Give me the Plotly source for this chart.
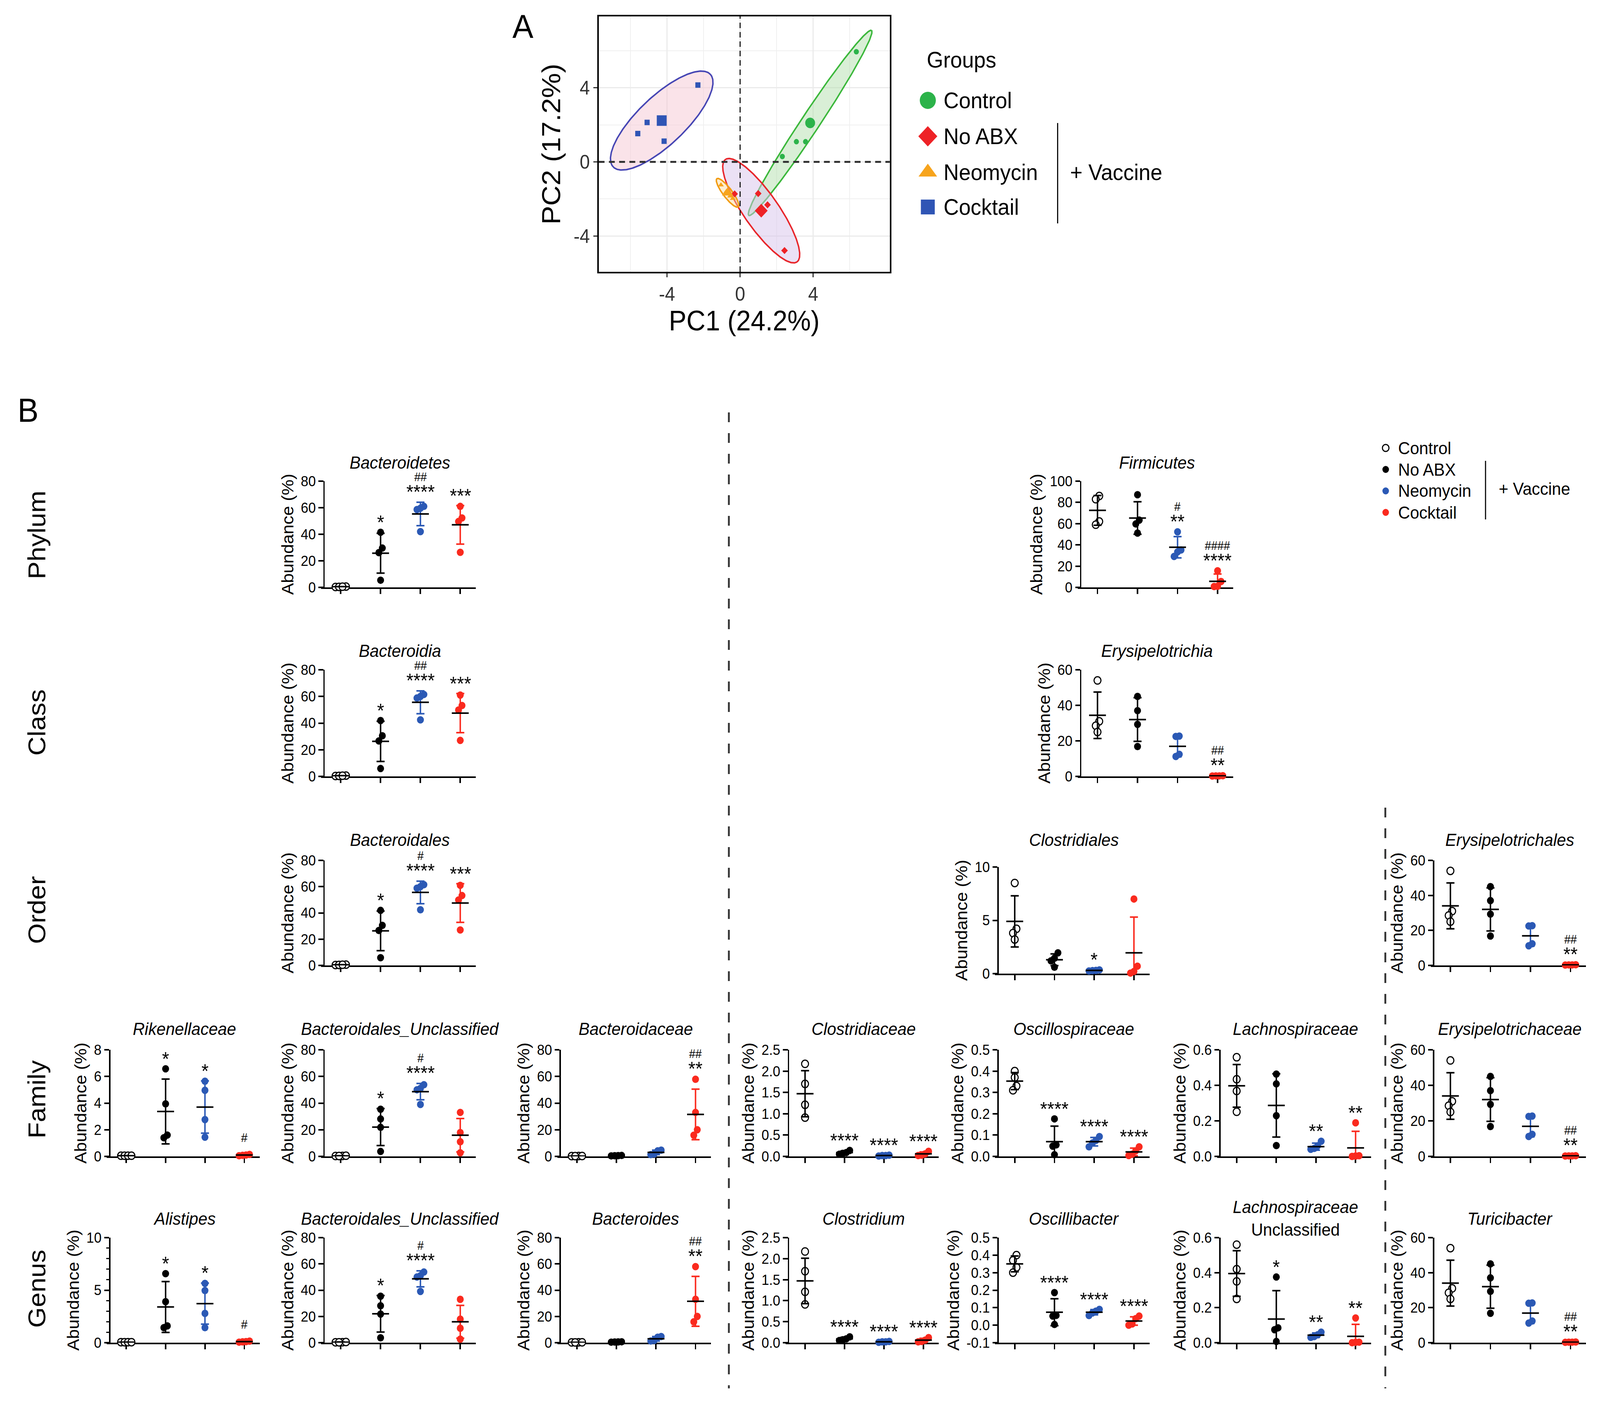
import numpy as np
import plotly.graph_objects as go

W, H = 4375, 3595
FONT = "Liberation Sans, Arial, Helvetica, sans-serif"

# ======================= Panel A : PCA data =======================
pca_groups = ["Control", "No ABX", "Neomycin", "Cocktail"]
pc1_control = [6.36, 3.08, 3.58, 2.31]
pc2_control = [5.95, 1.09, 1.09, 0.29]
pc1_noabx = [2.43, 1.50, -0.30, 0.99]
pc2_noabx = [-4.79, -2.32, -1.73, -1.71]
pc1_neomycin = [-1.05, -0.75, -0.55, -0.40]
pc2_neomycin = [-1.25, -1.60, -1.85, -1.98]
pc1_cocktail = [-2.31, -5.09, -5.60, -4.16]
pc2_cocktail = [4.15, 2.13, 1.53, 1.12]
ell_semi_major = [6.02, 3.39, 0.96, 3.65]
ell_semi_minor = [0.50, 0.95, 0.25, 1.30]
ell_angle_deg = [56.1, -54.7, -52.6, 43.2]
pca_ticks = [-4, 0, 4]
pca_tick_text = ["-4", "0", "4"]
pca_minor_grid = [-6, -2, 2, 6]

# ======================= Panel B : dot-plot data =======================
dot_groups = ["Control", "No ABX", "Neomycin", "Cocktail"]

bacteroidetes_pts = [[0.3, 0.6, 0.4, 0.5], [41.5, 29.6, 26.2, 5.4], [61.0, 59.6, 58.6, 42.0], [61.0, 52.3, 49.6, 26.4]]
bacteroidetes_mean = [0.45, 25.7, 55.3, 47.1]
bacteroidetes_sd = [0.15, 15.0, 8.8, 14.5]
bacteroidetes_star = ["", "*", "****", "***"]
bacteroidetes_hash = ["", "", "##", ""]

firmicutes_pts = [[86.0, 83.0, 62.0, 59.0], [87.2, 63.3, 59.7, 51.1], [52.3, 35.2, 33.4, 29.1], [15.6, 5.5, 1.0, 0.8]]
firmicutes_mean = [72.5, 65.3, 37.8, 5.7]
firmicutes_sd = [14.0, 15.3, 10.0, 6.9]
firmicutes_star = ["", "", "**", "****"]
firmicutes_hash = ["", "", "#", "####"]

bacteroidia_pts = [[0.3, 0.6, 0.4, 0.5], [41.9, 30.5, 26.6, 5.9], [61.5, 60.0, 58.8, 42.4], [61.0, 53.2, 49.8, 27.0]]
bacteroidia_mean = [0.45, 26.3, 55.6, 47.5]
bacteroidia_sd = [0.15, 15.1, 8.6, 14.7]
bacteroidia_star = ["", "*", "****", "***"]
bacteroidia_hash = ["", "", "##", ""]

erysipelotrichia_pts = [[54.0, 31.0, 28.5, 25.0], [45.0, 37.0, 29.3, 16.8], [22.5, 22.7, 11.2, 12.4], [0.3, 0.2, 0.4, 0.3]]
erysipelotrichia_mean = [34.4, 32.0, 16.9, 0.3]
erysipelotrichia_sd = [13.1, 12.3, 5.9, 0.1]
erysipelotrichia_star = ["", "", "", "**"]
erysipelotrichia_hash = ["", "", "", "##"]

bacteroidales_pts = [[0.3, 0.6, 0.4, 0.5], [41.9, 30.5, 26.6, 5.9], [61.5, 60.0, 58.8, 42.4], [61.0, 53.2, 49.8, 27.0]]
bacteroidales_mean = [0.45, 26.3, 55.6, 47.5]
bacteroidales_sd = [0.15, 15.1, 8.6, 14.7]
bacteroidales_star = ["", "*", "****", "***"]
bacteroidales_hash = ["", "", "#", ""]

clostridiales_pts = [[8.5, 4.2, 3.8, 3.2], [1.95, 1.45, 1.2, 0.6], [0.35, 0.3, 0.28, 0.25], [7.0, 0.7, 0.2, 0.05]]
clostridiales_mean = [4.9, 1.3, 0.3, 1.95]
clostridiales_sd = [2.4, 0.55, 0.05, 3.35]
clostridiales_star = ["", "", "*", ""]
clostridiales_hash = ["", "", "", ""]

erysipelotrichales_pts = [[54.0, 31.0, 28.5, 25.0], [45.0, 37.0, 29.3, 16.8], [22.5, 22.7, 11.2, 12.4], [0.3, 0.2, 0.4, 0.3]]
erysipelotrichales_mean = [34.0, 32.0, 16.9, 0.3]
erysipelotrichales_sd = [13.1, 12.3, 5.9, 0.1]
erysipelotrichales_star = ["", "", "", "**"]
erysipelotrichales_hash = ["", "", "", "##"]

rikenellaceae_pts = [[0.05, 0.05, 0.05, 0.05], [6.57, 3.94, 1.60, 1.40], [5.64, 4.96, 2.76, 1.44], [0.15, 0.10, 0.08, 0.05]]
rikenellaceae_mean = [0.05, 3.37, 3.70, 0.10]
rikenellaceae_sd = [0.0, 2.43, 1.96, 0.04]
rikenellaceae_star = ["", "*", "*", ""]
rikenellaceae_hash = ["", "", "", "#"]

bactunc_fam_pts = [[0.3, 0.4, 0.5, 0.3], [35.4, 28.1, 21.8, 3.7], [53.8, 51.0, 50.0, 39.0], [33.0, 17.9, 11.0, 2.7]]
bactunc_fam_mean = [0.4, 22.0, 48.6, 15.9]
bactunc_fam_sd = [0.1, 13.9, 6.1, 12.5]
bactunc_fam_star = ["", "*", "****", ""]
bactunc_fam_hash = ["", "", "#", ""]

bacteroidaceae_pts = [[0.2, 0.3, 0.2, 0.3], [0.5, 0.6, 0.4, 0.7], [4.7, 4.2, 1.8, 1.3], [57.9, 33.0, 20.0, 15.9]]
bacteroidaceae_mean = [0.25, 0.55, 3.0, 31.5]
bacteroidaceae_sd = [0.05, 0.1, 1.7, 19.0]
bacteroidaceae_star = ["", "", "", "**"]
bacteroidaceae_hash = ["", "", "", "##"]

clostridiaceae_pts = [[2.17, 1.70, 1.21, 0.91], [0.14, 0.09, 0.07, 0.05], [0.03, 0.02, 0.02, 0.01], [0.12, 0.06, 0.03, 0.02]]
clostridiaceae_mean = [1.47, 0.09, 0.02, 0.06]
clostridiaceae_sd = [0.54, 0.04, 0.01, 0.045]
clostridiaceae_star = ["", "****", "****", "****"]
clostridiaceae_hash = ["", "", "", ""]

oscillospiraceae_pts = [[0.40, 0.37, 0.33, 0.31], [0.176, 0.054, 0.048, 0.008], [0.093, 0.075, 0.063, 0.045], [0.045, 0.026, 0.010, 0.004]]
oscillospiraceae_mean = [0.353, 0.069, 0.069, 0.021]
oscillospiraceae_sd = [0.04, 0.073, 0.02, 0.018]
oscillospiraceae_star = ["", "****", "****", "****"]
oscillospiraceae_hash = ["", "", "", ""]

lachnospiraceae_pts = [[0.558, 0.434, 0.368, 0.251], [0.463, 0.408, 0.229, 0.061], [0.085, 0.060, 0.045, 0.040], [0.189, 0.004, 0.002, 0.0]]
lachnospiraceae_mean = [0.397, 0.287, 0.055, 0.048]
lachnospiraceae_sd = [0.12, 0.178, 0.02, 0.093]
lachnospiraceae_star = ["", "", "**", "**"]
lachnospiraceae_hash = ["", "", "", ""]

erysipelotrichaceae_pts = [[54.0, 31.0, 28.5, 25.0], [45.0, 37.0, 29.3, 16.8], [22.5, 22.7, 11.2, 12.4], [0.3, 0.2, 0.4, 0.3]]
erysipelotrichaceae_mean = [34.0, 32.0, 16.9, 0.3]
erysipelotrichaceae_sd = [13.1, 12.3, 5.9, 0.1]
erysipelotrichaceae_star = ["", "", "", "**"]
erysipelotrichaceae_hash = ["", "", "", "##"]

alistipes_pts = [[0.05, 0.05, 0.05, 0.05], [6.57, 3.90, 1.60, 1.43], [5.64, 4.96, 2.79, 1.43], [0.15, 0.10, 0.08, 0.05]]
alistipes_mean = [0.05, 3.40, 3.72, 0.10]
alistipes_sd = [0.0, 2.42, 1.95, 0.04]
alistipes_star = ["", "*", "*", ""]
alistipes_hash = ["", "", "", "#"]

bactunc_gen_pts = [[0.3, 0.4, 0.5, 0.3], [35.4, 28.1, 21.8, 3.7], [53.8, 51.0, 50.0, 39.0], [33.0, 17.9, 11.0, 2.7]]
bactunc_gen_mean = [0.4, 22.0, 48.6, 15.9]
bactunc_gen_sd = [0.1, 13.9, 6.1, 12.5]
bactunc_gen_star = ["", "*", "****", ""]
bactunc_gen_hash = ["", "", "#", ""]

bacteroides_pts = [[0.2, 0.3, 0.2, 0.3], [0.5, 0.6, 0.4, 0.7], [4.7, 4.2, 1.8, 1.3], [57.9, 33.0, 20.0, 15.9]]
bacteroides_mean = [0.25, 0.55, 3.0, 31.5]
bacteroides_sd = [0.05, 0.1, 1.7, 19.0]
bacteroides_star = ["", "", "", "**"]
bacteroides_hash = ["", "", "", "##"]

clostridium_pts = [[2.17, 1.70, 1.21, 0.91], [0.14, 0.09, 0.07, 0.05], [0.03, 0.02, 0.02, 0.01], [0.12, 0.06, 0.03, 0.02]]
clostridium_mean = [1.47, 0.09, 0.02, 0.06]
clostridium_sd = [0.54, 0.04, 0.01, 0.045]
clostridium_star = ["", "****", "****", "****"]
clostridium_hash = ["", "", "", ""]

oscillibacter_pts = [[0.40, 0.37, 0.33, 0.30], [0.186, 0.056, 0.052, 0.004], [0.090, 0.080, 0.070, 0.055], [0.052, 0.037, 0.007, 0.0]]
oscillibacter_mean = [0.35, 0.074, 0.074, 0.024]
oscillibacter_sd = [0.045, 0.077, 0.015, 0.024]
oscillibacter_star = ["", "****", "****", "****"]
oscillibacter_hash = ["", "", "", ""]

lachnounc_pts = [[0.56, 0.42, 0.35, 0.25], [0.375, 0.085, 0.074, 0.007], [0.060, 0.045, 0.035, 0.030], [0.141, 0.003, 0.002, 0.0]]
lachnounc_mean = [0.395, 0.135, 0.043, 0.036]
lachnounc_sd = [0.13, 0.162, 0.013, 0.069]
lachnounc_star = ["", "*", "**", "**"]
lachnounc_hash = ["", "", "", ""]

turicibacter_pts = [[54.0, 31.0, 28.5, 25.0], [45.0, 37.0, 29.3, 16.8], [22.5, 22.7, 11.2, 12.4], [0.3, 0.2, 0.4, 0.3]]
turicibacter_mean = [34.0, 32.0, 16.9, 0.3]
turicibacter_sd = [13.1, 12.3, 5.9, 0.1]
turicibacter_star = ["", "", "", "**"]
turicibacter_hash = ["", "", "", "##"]

# ======================= Styling / layout tables =======================
BLACK = "#000000"
BLUE = "#2B59B5"
RED = "#FA2A1E"
GROUP_FILL = ["white", BLACK, BLUE, RED]
GROUP_EDGE = [BLACK, BLACK, BLUE, RED]
GROUP_BAR = [BLACK, BLACK, BLUE, RED]

PCA_COL = ["#2CB34A", "#EE2226", "#F7A41D", "#2F55B5"]
PCA_ELL_LINE = ["#3CB83C", "#E8262B", "#F29C12", "#4646B4"]
PCA_ELL_FILL = ["rgba(170,220,165,0.45)", "rgba(215,195,235,0.5)", "rgba(250,215,150,0.45)", "rgba(245,200,212,0.5)"]
PCA_SYM = ["circle", "diamond", "triangle-up", "square"]

COLS = {"L1": (300, 710), "L2": (886, 1301), "L3": (1532, 1944), "R1": (2156, 2567),
        "R2": (2729, 3143), "R3": (3336, 3749), "R4": (3920, 4337), "F": (2955, 3372)}
ROWS = {"P": (1232, 1504, 1184), "C": (1715, 1988, 1666), "O": (2203, 2472, 2150),
        "Oc": (2220, 2493, 2150), "F": (2688, 2961, 2634), "G": (3169, 3438, 3120)}

PANELS = [
    ("<i>Bacteroidetes</i>", "bacteroidetes", "L2", "P", (0, 80), 20, "", None),
    ("<i>Firmicutes</i>", "firmicutes", "F", "P", (0, 100), 20, "", None),
    ("<i>Bacteroidia</i>", "bacteroidia", "L2", "C", (0, 80), 20, "", None),
    ("<i>Erysipelotrichia</i>", "erysipelotrichia", "F", "C", (0, 60), 20, "", None),
    ("<i>Bacteroidales</i>", "bacteroidales", "L2", "O", (0, 80), 20, "", None),
    ("<i>Clostridiales</i>", "clostridiales", "R2", "Oc", (0, 10), 5, "", None),
    ("<i>Erysipelotrichales</i>", "erysipelotrichales", "R4", "O", (0, 60), 20, "", None),
    ("<i>Rikenellaceae</i>", "rikenellaceae", "L1", "F", (0, 8), 2, "", None),
    ("<i>Bacteroidales_Unclassified</i>", "bactunc_fam", "L2", "F", (0, 80), 20, "", None),
    ("<i>Bacteroidaceae</i>", "bacteroidaceae", "L3", "F", (0, 80), 20, "", None),
    ("<i>Clostridiaceae</i>", "clostridiaceae", "R1", "F", (0, 2.5), 0.5, ".1f", None),
    ("<i>Oscillospiraceae</i>", "oscillospiraceae", "R2", "F", (0, 0.5), 0.1, ".1f", None),
    ("<i>Lachnospiraceae</i>", "lachnospiraceae", "R3", "F", (0, 0.6), 0.2, ".1f", None),
    ("<i>Erysipelotrichaceae</i>", "erysipelotrichaceae", "R4", "F", (0, 60), 20, "", None),
    ("<i>Alistipes</i>", "alistipes", "L1", "G", (0, 10), 5, "", 1),
    ("<i>Bacteroidales_Unclassified</i>", "bactunc_gen", "L2", "G", (0, 80), 20, "", None),
    ("<i>Bacteroides</i>", "bacteroides", "L3", "G", (0, 80), 20, "", None),
    ("<i>Clostridium</i>", "clostridium", "R1", "G", (0, 2.5), 0.5, ".1f", None),
    ("<i>Oscillibacter</i>", "oscillibacter", "R2", "G", (-0.1, 0.5), 0.1, ".1f", None),
    ("<i>Lachnospiraceae</i><br>Unclassified", "lachnounc", "R3", "G", (0, 0.6), 0.2, ".1f", None),
    ("<i>Turicibacter</i>", "turicibacter", "R4", "G", (0, 60), 20, "", None),
]

X_LEFT, X_RIGHT = -0.42, 3.39
MARKER_D = 19


def fx(px):
    return px / W


def fy(py):
    return 1 - py / H


def beeswarm(vals, px_per_unit, d):
    vals = np.asarray(vals, float)
    order = np.argsort(vals)
    offs = np.zeros(len(vals))
    clusters = [[order[0]]]
    for i in order[1:]:
        if (vals[i] - vals[clusters[-1][-1]]) * px_per_unit < 0.8 * d:
            clusters[-1].append(i)
        else:
            clusters.append([i])
    for c in clusters:
        k = len(c)
        for j, idx in enumerate(c):
            offs[idx] = (j - (k - 1) / 2.0) * 0.5 * d
    return offs


def tick_text(vals, fmt):
    out = []
    for v in vals:
        s = format(v, fmt) if fmt else str(int(round(v)))
        out.append(s.replace("\u2212", "-"))
    return out


fig = go.Figure()
layout = dict(width=W, height=H, margin=dict(l=0, r=0, t=0, b=0, pad=0),
              paper_bgcolor="white", plot_bgcolor="rgba(0,0,0,0)", showlegend=False,
              font=dict(family=FONT, color="black"))
annotations = []
shapes = []

# ======================= Panel A =======================
pca_axis_common = dict(tickvals=pca_ticks, ticktext=pca_tick_text, ticks="outside", ticklen=10, tickwidth=3,
                       tickcolor="#333", showline=True, mirror=True, linewidth=4, linecolor="black",
                       showgrid=True, gridcolor="#EBEBEB", gridwidth=3, zeroline=False,
                       minor=dict(tickvals=pca_minor_grid, showgrid=True, gridcolor="#F0F0F0", gridwidth=2, ticks=""),
                       tickfont=dict(size=50, color="#333"), automargin=False)
layout["xaxis"] = dict(domain=[fx(1637), fx(2433)], range=[-7.74, 8.19], anchor="y",
                       title=dict(text="PC1 (24.2%)", font=dict(size=72), standoff=12), **pca_axis_common)
layout["yaxis"] = dict(domain=[fy(696), fy(42)], range=[-5.94, 7.86], anchor="x",
                       title=dict(text="PC2 (17.2%)", font=dict(size=72), standoff=14), **pca_axis_common)

shapes.append(dict(type="line", xref="x", yref="y domain", x0=0, x1=0, y0=0, y1=1, layer="above",
                   line=dict(color="#111", width=3, dash="14px,10px")))
shapes.append(dict(type="line", xref="x domain", yref="y", x0=0, x1=1, y0=0, y1=0, layer="above",
                   line=dict(color="#333", width=5, dash="16px,12px")))

pca_pc1 = [pc1_control, pc1_noabx, pc1_neomycin, pc1_cocktail]
pca_pc2 = [pc2_control, pc2_noabx, pc2_neomycin, pc2_cocktail]
t = np.linspace(0, 2 * np.pi, 241)
for g in range(4):
    cx, cy = np.mean(pca_pc1[g]), np.mean(pca_pc2[g])
    a, b, th = ell_semi_major[g], ell_semi_minor[g], np.deg2rad(ell_angle_deg[g])
    ex = cx + a * np.cos(t) * np.cos(th) - b * np.sin(t) * np.sin(th)
    ey = cy + a * np.cos(t) * np.sin(th) + b * np.sin(t) * np.cos(th)
    fig.add_trace(go.Scatter(x=ex, y=ey, mode="lines", fill="toself", fillcolor=PCA_ELL_FILL[g],
                             line=dict(color=PCA_ELL_LINE[g], width=4), xaxis="x", yaxis="y", hoverinfo="skip"))
for g in range(4):
    cx, cy = np.mean(pca_pc1[g]), np.mean(pca_pc2[g])
    fig.add_trace(go.Scatter(x=pca_pc1[g], y=pca_pc2[g], mode="markers", xaxis="x", yaxis="y",
                             marker=dict(symbol=PCA_SYM[g], size=14, color=PCA_COL[g], line=dict(width=0))))
    fig.add_trace(go.Scatter(x=[cx], y=[cy], mode="markers", xaxis="x", yaxis="y",
                             marker=dict(symbol=PCA_SYM[g], size=27, color=PCA_COL[g], line=dict(width=0))))

annotations.append(dict(text="A", x=fx(1430), y=fy(67), xref="paper", yref="paper", showarrow=False,
                        font=dict(size=86), xanchor="center", yanchor="middle"))
annotations.append(dict(text="B", x=fx(76), y=fy(1050), xref="paper", yref="paper", showarrow=False,
                        font=dict(size=86), xanchor="center", yanchor="middle"))

# ---- overlay axis used only for legend glyphs (pixel coordinates) ----
layout["xaxis40"] = dict(domain=[0, 1], range=[0, W], visible=False, fixedrange=True, anchor="y40")
layout["yaxis40"] = dict(domain=[0, 1], range=[H, 0], visible=False, fixedrange=True, anchor="x40")

# legend A
annotations.append(dict(text="Groups", x=fx(2532), y=fy(153), xref="paper", yref="paper", showarrow=False,
                        font=dict(size=58), xanchor="left", yanchor="middle"))
legA_y = [257, 349, 441, 530]
legA_size = [44, 40, 44, 38]
for g in range(4):
    fig.add_trace(go.Scatter(x=[2537], y=[legA_y[g]], xaxis="x40", yaxis="y40", mode="markers", cliponaxis=False,
                             marker=dict(symbol=PCA_SYM[g], size=legA_size[g], color=PCA_COL[g], line=dict(width=0))))
    annotations.append(dict(text=pca_groups[g], x=fx(2578), y=fy(legA_y[g]), xref="paper", yref="paper",
                            showarrow=False, font=dict(size=58), xanchor="left", yanchor="middle"))
shapes.append(dict(type="line", xref="paper", yref="paper", x0=fx(2892), x1=fx(2892), y0=fy(315), y1=fy(572),
                   line=dict(color="black", width=3)))
annotations.append(dict(text="+ Vaccine", x=fx(2924), y=fy(441), xref="paper", yref="paper", showarrow=False,
                        font=dict(size=58), xanchor="left", yanchor="middle"))

# legend B
legB_y = [1147, 1202, 1257, 1312]
for g in range(4):
    fig.add_trace(go.Scatter(x=[3789], y=[legB_y[g]], xaxis="x40", yaxis="y40", mode="markers", cliponaxis=False,
                             marker=dict(symbol="circle", size=18, color=GROUP_FILL[g],
                                         line=dict(color=GROUP_EDGE[g], width=3 if g == 0 else 0))))
    annotations.append(dict(text=dot_groups[g], x=fx(3821), y=fy(legB_y[g]), xref="paper", yref="paper",
                            showarrow=False, font=dict(size=45), xanchor="left", yanchor="middle"))
shapes.append(dict(type="line", xref="paper", yref="paper", x0=fx(4062), x1=fx(4062), y0=fy(1180), y1=fy(1330),
                   line=dict(color="black", width=3)))
annotations.append(dict(text="+ Vaccine", x=fx(4096), y=fy(1252), xref="paper", yref="paper", showarrow=False,
                        font=dict(size=45), xanchor="left", yanchor="middle"))

# row labels
row_labels = ["Phylum", "Class", "Order", "Family", "Genus"]
row_label_y = [1370, 1850, 2330, 2815, 3300]
for lab, yy in zip(row_labels, row_label_y):
    annotations.append(dict(text=lab, x=fx(100), y=fy(yy), xref="paper", yref="paper", showarrow=False,
                            textangle=-90, font=dict(size=68), xanchor="center", yanchor="middle"))

# dashed dividers
shapes.append(dict(type="line", xref="paper", yref="paper", x0=fx(1993), x1=fx(1993), y0=fy(1056), y1=fy(3555),
                   line=dict(color="#333", width=5, dash="25px,28px")))
shapes.append(dict(type="line", xref="paper", yref="paper", x0=fx(3788), x1=fx(3788), y0=fy(2068), y1=fy(3555),
                   line=dict(color="#333", width=5, dash="25px,28px")))

# ======================= Panel B dot plots =======================
G = globals()
for k, (title, key, col, row, yr, dtick, fmt, minor) in enumerate(PANELS, start=2):
    pts = G[key + "_pts"]
    mean = G[key + "_mean"]
    sd = G[key + "_sd"]
    star = G[key + "_star"]
    hsh = G[key + "_hash"]
    left, right = COLS[col]
    top, bottom, ty = ROWS[row]
    pxpc = (right - left) / (X_RIGHT - X_LEFT)
    pxpu = (bottom - top) / (yr[1] - yr[0])
    over = 8
    xa, ya, xr, yrf = f"xaxis{k}", f"yaxis{k}", f"x{k}", f"y{k}"
    layout[xa] = dict(domain=[fx(left - over), fx(right)], range=[X_LEFT - over / pxpc, X_RIGHT], anchor=yrf,
                      showline=True, linewidth=4, linecolor="black", ticks="outside", ticklen=13, tickwidth=4,
                      tickcolor="black", tickvals=[0, 1, 2, 3], showticklabels=False, showgrid=False,
                      zeroline=False, layer="below traces", automargin=False, fixedrange=True)
    tv = list(np.round(np.arange(yr[0], yr[1] + dtick / 2, dtick), 6))
    ydict = dict(domain=[fy(bottom), fy(top)], range=list(yr), anchor="free", position=fx(left),
                 showline=True, linewidth=4, linecolor="black", ticks="outside", ticklen=13, tickwidth=4,
                 tickcolor="black", tickvals=tv, ticktext=tick_text(tv, fmt), showgrid=False, zeroline=False,
                 tickfont=dict(size=37), layer="below traces", automargin=False, fixedrange=True,
                 title=dict(text="Abundance (%)", font=dict(size=45), standoff=5))
    if minor:
        ydict["minor"] = dict(dtick=minor, tick0=0, ticks="outside", ticklen=8, tickwidth=3, tickcolor="black")
    layout[ya] = ydict

    for g in range(4):
        offs = beeswarm(pts[g], pxpu, MARKER_D)
        xs = g + offs / pxpc
        fig.add_trace(go.Scatter(x=xs, y=pts[g], xaxis=xr, yaxis=yrf, mode="markers", cliponaxis=False,
                                 marker=dict(symbol="circle", size=MARKER_D, color=GROUP_FILL[g],
                                             line=dict(color=GROUP_EDGE[g], width=3 if g == 0 else 0))))
    for g in range(4):
        fig.add_trace(go.Scatter(x=[g], y=[mean[g]], xaxis=xr, yaxis=yrf, mode="markers", cliponaxis=True,
                                 marker=dict(symbol="line-ew", size=33, color="black",
                                             line=dict(color="black", width=4)),
                                 error_y=dict(type="data", array=[sd[g]], visible=True, color=GROUP_BAR[g],
                                              thickness=4, width=11)))
        topv = max(max(pts[g]), mean[g] + sd[g])
        if star[g] and hsh[g]:
            txt = (f"<span style='font-size:31px'>{hsh[g]}</span><br>"
                   f"<span style='font-size:50px'>{star[g]}</span>")
            annotations.append(dict(text=txt, x=g, y=topv, xref=xr, yref=yrf, showarrow=False,
                                    font=dict(size=35), xanchor="center", yanchor="bottom", yshift=-5))
        elif star[g]:
            annotations.append(dict(text=star[g], x=g, y=topv, xref=xr, yref=yrf, showarrow=False,
                                    font=dict(size=50), xanchor="center", yanchor="bottom", yshift=-5))
        elif hsh[g]:
            annotations.append(dict(text=hsh[g], x=g, y=topv, xref=xr, yref=yrf, showarrow=False,
                                    font=dict(size=32), xanchor="center", yanchor="bottom", yshift=23))
    annotations.append(dict(text=title, x=fx((left + right) / 2), y=fy(ty), xref="paper", yref="paper",
                            showarrow=False, font=dict(size=45), xanchor="center", yanchor="middle"))

layout["annotations"] = annotations
layout["shapes"] = shapes
fig.update_layout(**layout)

# Fit the fixed 4375x3595 figure to whatever viewport the page is shown in.
fit_script = """
var gd = document.getElementById('{plot_id}');
document.documentElement.style.margin = '0';
document.documentElement.style.padding = '0';
document.body.style.margin = '0';
document.body.style.padding = '0';
document.body.style.overflow = 'hidden';
document.documentElement.style.overflow = 'hidden';
var vw = window.innerWidth, vh = window.innerHeight;
var sx = vw / 4375, sy = vh / 3595;
if (sx > 0.3 && sy > 0.3 && (Math.abs(sx - 1) > 0.002 || Math.abs(sy - 1) > 0.002)) {
    gd.style.transformOrigin = '0 0';
    gd.style.transform = 'scale(' + sx + ',' + sy + ')';
    var wrap = gd.parentElement;
    wrap.style.width = vw + 'px';
    wrap.style.height = vh + 'px';
    wrap.style.overflow = 'hidden';
}
"""
fig.write_html("out.html", config={"displayModeBar": False}, post_script=fit_script)
